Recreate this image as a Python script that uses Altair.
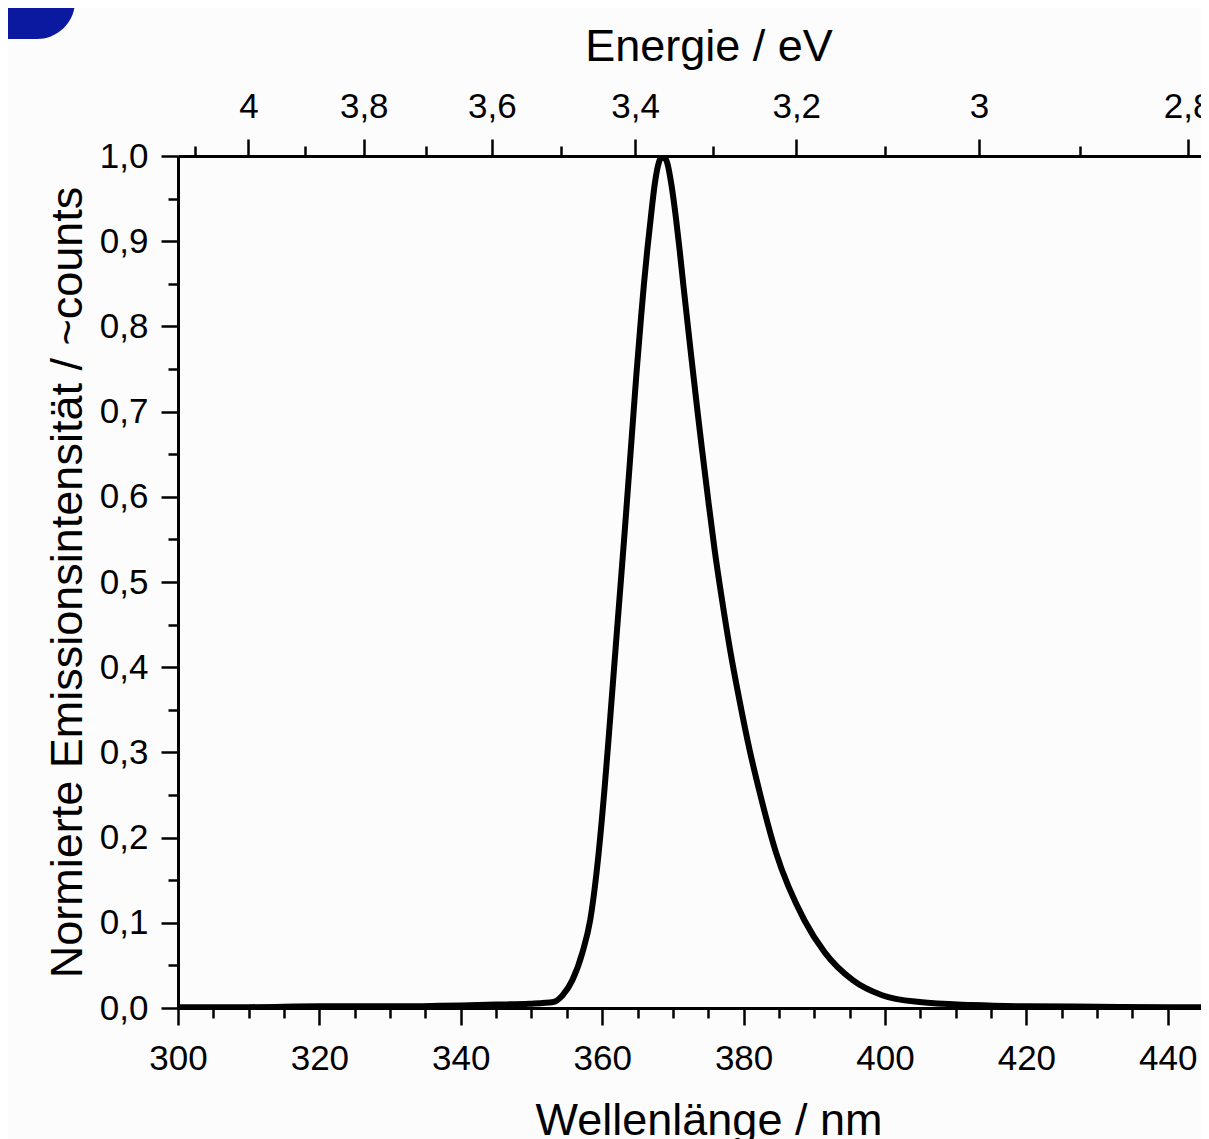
import altair as alt
import pandas as pd

# ---- data ----
wavelength = [300, 310, 320, 330, 340, 345, 349.7, 353.1, 354.4, 355.8, 357.2, 358.3,
              359.5, 360.35, 361.0, 362.1, 363.2, 364.25, 364.85, 365.5, 365.92, 366.38,
              366.88, 367.45, 368.0, 368.57, 369.2, 369.76, 370.45, 370.95, 371.45, 371.98,
              372.5, 373.02, 373.57, 374.13, 375.0, 375.9, 376.95, 378.1, 379.4, 380.85,
              382.1, 384.6, 388.6, 391.5, 395.4, 399.6, 404.9, 412.4, 420, 430, 440, 446]
intensity = [0.001, 0.001, 0.002, 0.002, 0.003, 0.004, 0.005, 0.007, 0.015, 0.033, 0.065, 0.103,
             0.182, 0.259, 0.326, 0.444, 0.561, 0.678, 0.745, 0.811, 0.851, 0.890,
             0.928, 0.968, 0.992, 1.000, 0.992, 0.968, 0.926, 0.890, 0.851, 0.811,
             0.772, 0.734, 0.694, 0.655, 0.596, 0.538, 0.479, 0.420, 0.362, 0.303,
             0.259, 0.182, 0.103, 0.065, 0.033, 0.015, 0.007, 0.0035, 0.002, 0.0015, 0.001, 0.001]

x_major = [300, 320, 340, 360, 380, 400, 420, 440]
x_minor = [305, 310, 315, 325, 330, 335, 345, 350, 355, 365, 370, 375, 385, 390, 395,
           405, 410, 415, 425, 430, 435]
y_major = [0.0, 0.1, 0.2, 0.3, 0.4, 0.5, 0.6, 0.7, 0.8, 0.9, 1.0]
y_minor = [0.05, 0.15, 0.25, 0.35, 0.45, 0.55, 0.65, 0.75, 0.85, 0.95]
energy_major = [4.0, 3.8, 3.6, 3.4, 3.2, 3.0, 2.8]
energy_minor = [4.1, 3.9, 3.7, 3.5, 3.3, 3.1, 2.9]
HC = 1239.84  # eV*nm

X_DOMAIN = [300, 444.7]
Y_DOMAIN = [0, 1]

df = pd.DataFrame({"wl": wavelength, "I": intensity})

FONT = "Liberation Sans"
xs = alt.Scale(domain=X_DOMAIN, nice=False, zero=False)
ys = alt.Scale(domain=Y_DOMAIN, nice=False, zero=False)

base = alt.Chart(df)

main = base.mark_line(color="black", strokeWidth=6, interpolate="monotone", clip=True).encode(
    x=alt.X("wl:Q", scale=xs, axis=alt.Axis(
        orient="bottom", values=x_major, format="d", tickSize=17, labelPadding=16,
        labelFlush=False, labelOverlap=False,
        title="Wellenlänge / nm", titlePadding=22, titleX=530.5)),
    y=alt.Y("I:Q", scale=ys, axis=alt.Axis(
        orient="left", values=y_major, tickSize=17, labelPadding=13,
        labelFlush=False, labelOverlap=False,
        labelExpr="replace(format(datum.value, '.1f'), '.', ',')",
        title="Normierte Emissionsintensität / ~counts", titlePadding=9)),
)

minor = base.mark_line(opacity=0).encode(
    x=alt.X("wl:Q", scale=xs, axis=alt.Axis(
        orient="bottom", values=x_minor, tickSize=10, labels=False, domain=False, title=None)),
    y=alt.Y("I:Q", scale=ys, axis=alt.Axis(
        orient="left", values=y_minor, tickSize=10, labels=False, domain=False, title=None)),
)

top_major = base.mark_line(opacity=0).encode(
    x=alt.X("wl:Q", scale=xs, axis=alt.Axis(
        orient="top", values=[HC / e for e in energy_major], tickSize=17, labelPadding=15,
        labelFlush=False, labelOverlap=False,
        labelExpr="replace('' + round(12398.4 / datum.value) / 10, '.', ',')",
        title="Energie / eV", titlePadding=20, titleX=530.5)),
    y=alt.Y("I:Q", scale=ys, axis=None),
)

top_minor = base.mark_line(opacity=0).encode(
    x=alt.X("wl:Q", scale=xs, axis=alt.Axis(
        orient="top", values=[HC / e for e in energy_minor], tickSize=10, labels=False,
        domain=False, title=None)),
    y=alt.Y("I:Q", scale=ys, axis=None),
)

# slide decoration (blue rounded corner at top-left)
deco = alt.Chart(pd.DataFrame({"k": [0]})).mark_rect(color="#0A19A0", cornerRadius=38).encode(
    x=alt.value(-260), x2=alt.value(-103), y=alt.value(-240), y2=alt.value(-117)
)

chart = alt.layer(deco, minor, top_minor, top_major, main).resolve_scale(
    x="independent", y="independent"
).properties(
    width=1023, height=852,
    autosize=alt.AutoSizeParams(type="none"),
    padding={"left": 170, "top": 148, "right": 0, "bottom": 131},
    background="#fcfcfc",
).configure_axis(
    grid=False, domainColor="black", tickColor="black", labelColor="black",
    titleColor="black", labelFont=FONT, titleFont=FONT, titleFontWeight="normal",
    domainWidth=3, tickWidth=2.5, labelFontSize=35, titleFontSize=45,
).configure_view(strokeWidth=0)

chart.save("out.html", embed_options={"renderer": "svg", "actions": False})
